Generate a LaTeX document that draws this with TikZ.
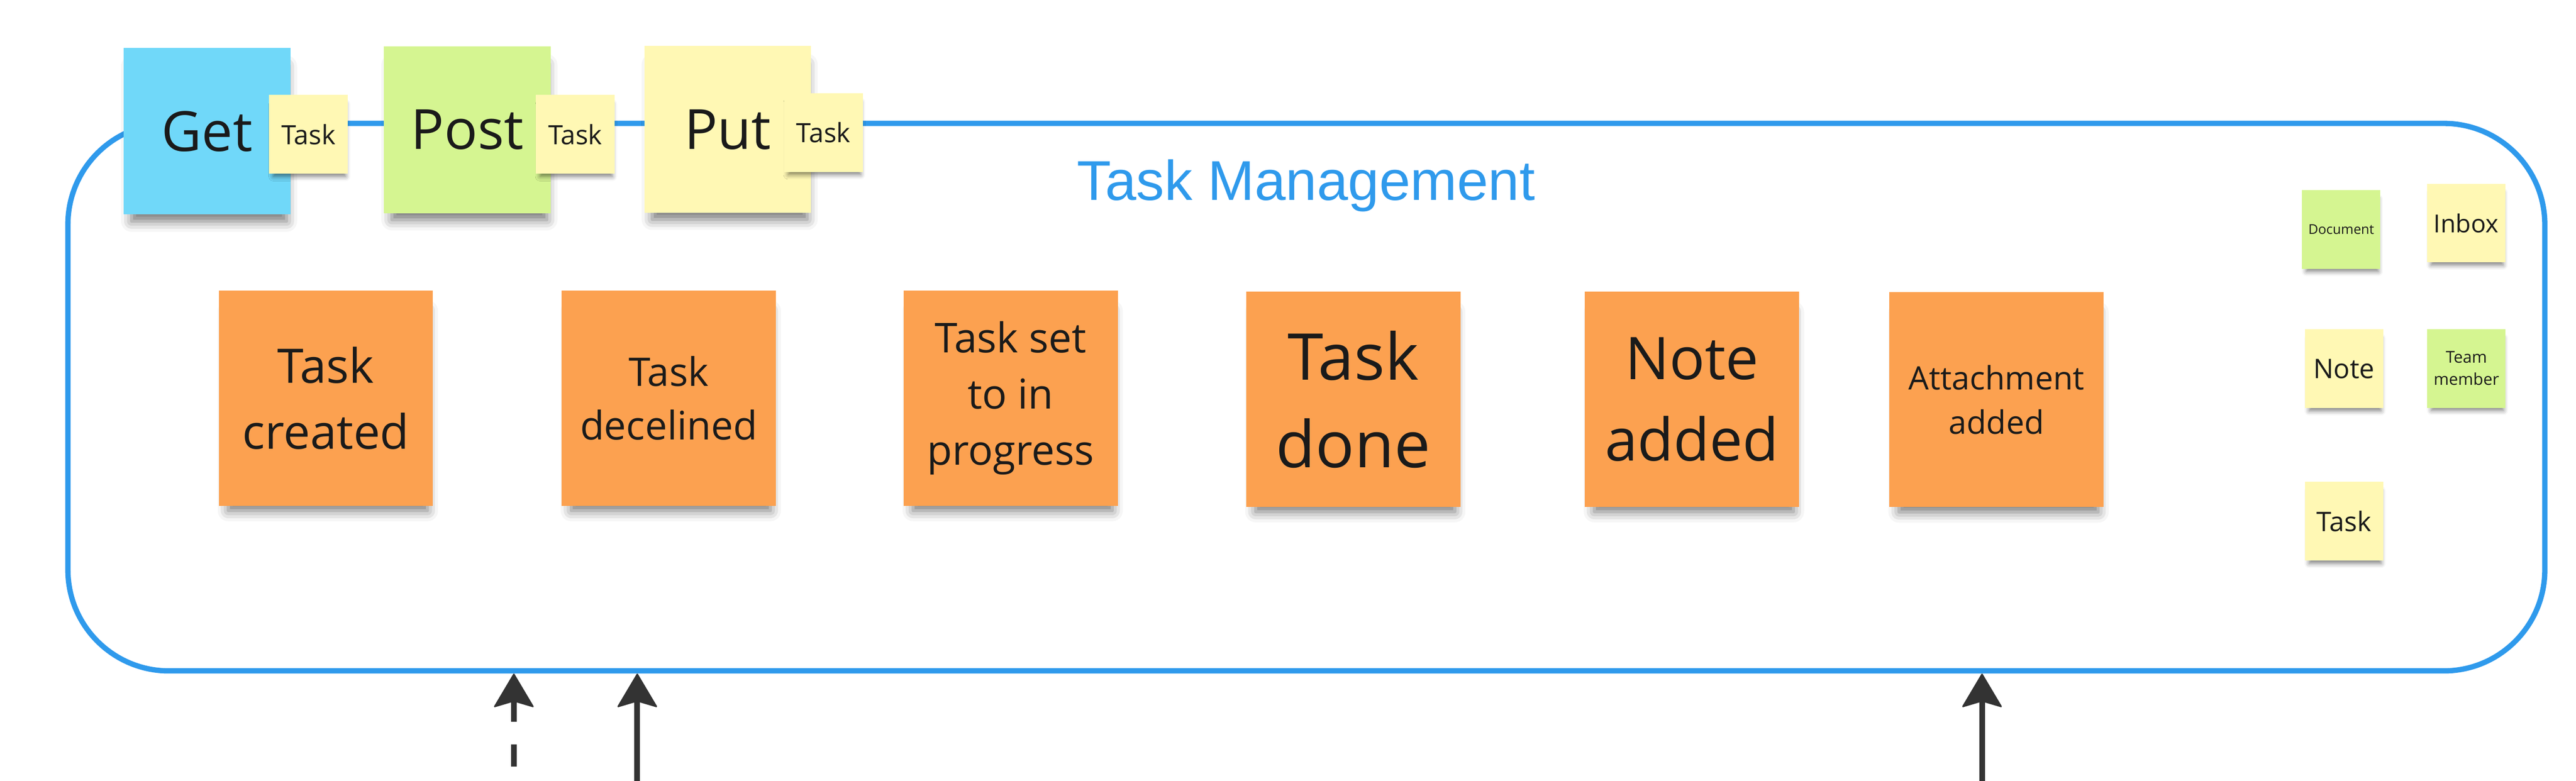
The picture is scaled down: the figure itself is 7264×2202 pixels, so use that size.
\documentclass[tikz,border=0pt]{standalone}
\usepackage{fontspec}
\setmainfont{Open Sans}
\newfontfamily\titlefont{Liberation Sans}
\usetikzlibrary{arrows.meta,shadows.blur}
\definecolor{tmblue}{RGB}{47,154,236}
\definecolor{stOrange}{RGB}{252,161,80}
\definecolor{stYellow}{RGB}{255,248,180}
\definecolor{stGreen}{RGB}{213,245,145}
\definecolor{stCyan}{RGB}{112,216,249}
\definecolor{inkc}{RGB}{26,26,26}
\definecolor{arrowgray}{RGB}{51,51,51}
\tikzset{
  sticky/.style={rectangle, inner sep=0pt, align=center, text=inkc},
  bigshadow/.style={blur shadow={shadow xshift=6pt, shadow yshift=-38pt, shadow scale=0.93, shadow blur radius=32pt, shadow opacity=55}},
  smallshadow/.style={blur shadow={shadow xshift=3pt, shadow yshift=-18pt, shadow scale=0.92, shadow blur radius=14pt, shadow opacity=50}},
  eventsticky/.style={sticky, bigshadow, fill=stOrange, minimum width=604pt, minimum height=606pt},
  verbsticky/.style={sticky, bigshadow, minimum width=470pt, minimum height=470pt, font=\fontsize{156}{212}\selectfont},
  tagsticky/.style={sticky, smallshadow, fill=stYellow, minimum width=222pt, minimum height=222pt, font=\fontsize{75}{102}\selectfont},
  legendsticky/.style={sticky, smallshadow, minimum width=221pt, minimum height=222pt},
  flow/.style={draw=arrowgray, line width=16pt, -{Stealth[length=98pt,width=116pt,inset=17pt,round,line width=4pt]}},
  container/.style={draw=tmblue, line width=15pt, rounded corners=285pt, inner sep=0pt}
}
\begin{document}
\begin{tikzpicture}[x=1pt, y=-1pt]
\useasboundingbox (0,0) rectangle (7264,2202);

% container
\node[container, minimum width=6984.5pt, minimum height=1544pt] (tm) at (3683.75,1120) {};
\node[anchor=base, inner sep=0pt, text=tmblue, font=\titlefont\fontsize{158}{190}\selectfont] (title) at (3683,565) {Task Management};

% verbs with tags
\node[verbsticky, fill=stCyan] (get) at (584,370) {Get};
\node[tagsticky] (gettask) at (870,379) {Task};
\node[verbsticky, fill=stGreen] (post) at (1318,366) {Post};
\node[tagsticky] (posttask) at (1622,379) {Task};
\node[verbsticky, fill=stYellow] (put) at (2052,365) {Put};
\node[tagsticky] (puttask) at (2322,374) {Task};

% events
\node[eventsticky, font=\fontsize{134}{186}\selectfont] (e1) at (919,1123) {Task\\created};
\node[eventsticky, font=\fontsize{111}{151}\selectfont] (e2) at (1886,1123) {Task\\decelined};
\node[eventsticky, font=\fontsize{116}{158}\selectfont] (e3) at (2850,1123) {Task set\\to in\\progress};
\node[eventsticky, font=\fontsize{182}{247}\selectfont] (e4) at (3816,1126) {Task\\done};
\node[eventsticky, font=\fontsize{166}{229}\selectfont] (e5) at (4771,1126) {Note\\added};
\node[eventsticky, font=\fontsize{91}{125}\selectfont] (e6) at (5630,1127) {Attachment\\added};

% legend
\node[legendsticky, fill=stGreen, font=\fontsize{38}{52}\selectfont] (ldoc) at (6602,647) {Document};
\node[legendsticky, fill=stYellow, font=\fontsize{70}{96}\selectfont] (linbox) at (6954,629) {Inbox};
\node[legendsticky, fill=stYellow, font=\fontsize{76}{104}\selectfont] (lnote) at (6610,1040) {Note};
\node[legendsticky, fill=stGreen, font=\fontsize{46}{62}\selectfont] (lteam) at (6955,1039) {Team\\member};
\node[legendsticky, fill=stYellow, font=\fontsize{76}{104}\selectfont] (ltask) at (6610,1470) {Task};

% incoming arrows
\coordinate (a1) at (1449,2225);
\coordinate (a2) at (1797,2225);
\coordinate (a3) at (5589,2225);
\draw[flow, dash pattern=on 63pt off 63pt, dash phase=63pt] (a1) -- (a1 |- tm.south);
\draw[flow] (a2) -- (a2 |- tm.south);
\draw[flow] (a3) -- (a3 |- tm.south);
\end{tikzpicture}
\end{document}
